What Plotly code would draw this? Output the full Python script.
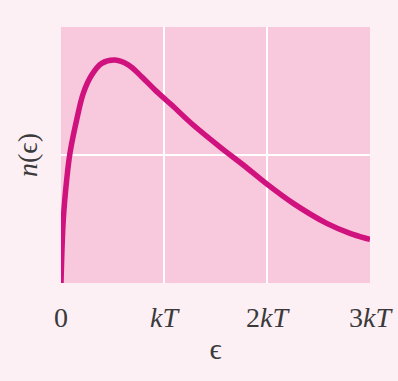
import plotly.graph_objects as go

# Energy values (in units of kT)
energy = [0.0, 0.022, 0.055, 0.087, 0.152, 0.217, 0.298, 0.395, 0.524, 0.653,
          0.783, 0.913, 1.019, 1.075, 1.284, 1.560, 1.770, 2.000, 2.255, 2.580,
          2.806, 2.983, 3.0]
# Relative number of particles n(eps), fraction of plot height
n_eps = [0.0, 0.246, 0.402, 0.507, 0.637, 0.742, 0.8125, 0.858, 0.871, 0.852,
         0.806, 0.754, 0.715, 0.695, 0.617, 0.526, 0.461, 0.386, 0.311, 0.233,
         0.194, 0.172, 0.170]

tick_vals = [0, 1, 2, 3]
tick_text = ["0", "<i>kT</i>", "2<i>kT</i>", "3<i>kT</i>"]

fig = go.Figure()
fig.add_trace(go.Scatter(
    x=energy, y=n_eps, mode="lines",
    line=dict(color="#d0127e", width=5.5, shape="spline", smoothing=1.0),
    hoverinfo="skip", showlegend=False,
))

fig.update_layout(
    width=398, height=381,
    margin=dict(l=61, r=28, t=27, b=98),
    paper_bgcolor="#fdf0f5",
    plot_bgcolor="#f8c9dd",
    font=dict(family="Liberation Serif, DejaVu Serif, serif", color="#3a3a3a"),
    xaxis=dict(
        range=[0, 3], tickvals=tick_vals, ticktext=tick_text,
        showgrid=True, gridcolor="#ffffff", gridwidth=1.3,
        zeroline=False, showline=False, ticks="",
        ticklabelstandoff=15, automargin=False,
        tickfont=dict(size=28, color="#3a3a3a"),
        title=dict(text="ϵ", font=dict(size=30, color="#3a3a3a"), standoff=5),
        fixedrange=True,
    ),
    yaxis=dict(
        range=[0, 1], tickvals=[0.5], showticklabels=False,
        showgrid=True, gridcolor="#ffffff", gridwidth=1.3,
        zeroline=False, showline=False, ticks="",
        automargin=False,
        title=dict(text="<i>n</i>(ϵ)", font=dict(size=28, color="#3a3a3a"), standoff=14),
        fixedrange=True,
    ),
)

fig.write_html(
    "out.html",
    config={"displayModeBar": False, "staticPlot": True},
    post_script="document.body.style.margin='0';document.body.style.background='#fdf0f5';",
)
